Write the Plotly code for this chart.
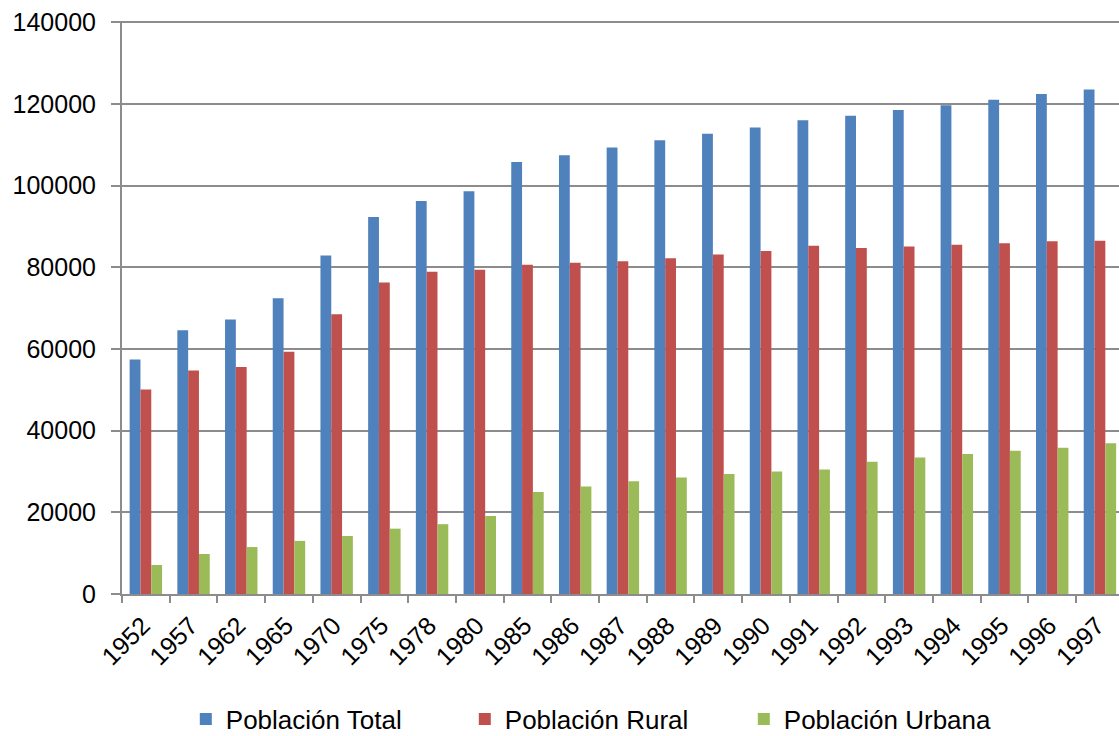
import plotly.graph_objects as go

years = ["1952", "1957", "1962", "1965", "1970", "1975", "1978", "1980", "1985", "1986",
         "1987", "1988", "1989", "1990", "1991", "1992", "1993", "1994", "1995", "1996", "1997"]

poblacion_total = [57400, 64600, 67200, 72400, 82900, 92300, 96200, 98600, 105800, 107400,
                   109300, 111100, 112700, 114200, 116000, 117100, 118500, 119700, 121000, 122400, 123500]
poblacion_rural = [50100, 54700, 55600, 59300, 68500, 76300, 78900, 79400, 80600, 81100,
                   81500, 82200, 83100, 84000, 85300, 84700, 85100, 85500, 85900, 86400, 86500]
poblacion_urbana = [7100, 9800, 11500, 13000, 14200, 16000, 17100, 19100, 25000, 26300,
                    27600, 28500, 29400, 30000, 30500, 32400, 33400, 34300, 35100, 35800, 36900]

y_ticks = [0, 20000, 40000, 60000, 80000, 100000, 120000, 140000]

series = [
    ("Población Total", poblacion_total, "#4F81BD"),
    ("Población Rural", poblacion_rural, "#C0504D"),
    ("Población Urbana", poblacion_urbana, "#9BBB59"),
]

FONT = "Liberation Sans, Arial, sans-serif"

fig = go.Figure()
for name, vals, color in series:
    fig.add_trace(go.Bar(x=years, y=vals, name=name, marker=dict(color=color, line=dict(width=0))))

fig.update_layout(
    width=1119, height=736,
    margin=dict(l=122, r=0, t=21, b=142, autoexpand=False),
    paper_bgcolor="white", plot_bgcolor="white",
    barmode="group", bargap=0.32, bargroupgap=0,
    font=dict(family=FONT, size=25, color="black"),
    showlegend=True,
    legend=dict(orientation="h", x=0.064, xanchor="left", y=-0.2185, yanchor="middle",
                font=dict(family=FONT, size=26, color="black"),
                entrywidth=234, entrywidthmode="pixels", itemwidth=30,
                bgcolor="rgba(0,0,0,0)", traceorder="normal"),
)

fig.update_xaxes(
    type="category", range=[-0.5, 20.4],
    tickangle=-45, tickfont=dict(family=FONT, size=25, color="black"),
    showline=True, linecolor="#8C8C8C", linewidth=2,
    ticks="outside", tickson="boundaries", ticklen=7, tickcolor="#8C8C8C", tickwidth=2,
    showgrid=False, ticklabelshift=-3, ticklabelstandoff=5, automargin=False,
)
fig.update_yaxes(
    range=[0, 140300], tickvals=y_ticks, ticktext=[str(v) for v in y_ticks],
    tickfont=dict(family=FONT, size=25, color="black"),
    showline=True, linecolor="#8C8C8C", linewidth=2,
    ticks="outside", ticklen=9, tickcolor="#8C8C8C", tickwidth=2,
    showgrid=True, gridcolor="#8C8C8C", gridwidth=2,
    zeroline=False, ticklabelstandoff=10, automargin=False,
    ticklabeloverflow="allow",
)

fig.write_html(
    "out.html",
    config={"displayModeBar": False},
    post_script="document.body.style.margin='0';document.body.style.overflow='hidden';",
)
